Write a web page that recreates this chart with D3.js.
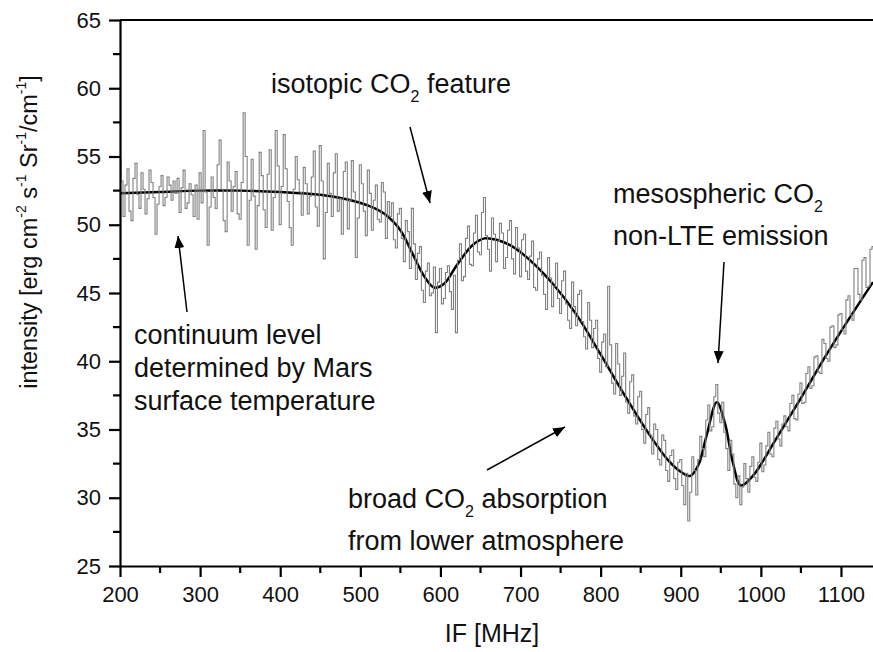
<!DOCTYPE html>
<html>
<head>
<meta charset="utf-8">
<script src="https://cdn.jsdelivr.net/npm/d3@7"></script>
<style>
  body { margin: 0; background: #fff; }
  text { font-family: "Liberation Sans", Arial, sans-serif; fill: #111; }
</style>
</head>
<body>
<div class="chart"></div>
<script>
// measured spectrum, one channel every 2.5 MHz from 200 to 1140
const freqStart = 200, freqStep = 2.5;
const measured = [
  54.8, 53.2, 50.6, 52.9, 54.1, 51.0, 50.3, 53.4, 54.5, 52.2, 51.2, 53.8, 52.6, 50.8, 51.9, 54.0, 53.1, 52.0, 49.3, 51.5,
  52.8, 53.6, 51.4, 52.0, 53.5, 52.9, 51.8, 53.2, 52.3, 53.4, 50.9, 52.7, 54.0, 51.2, 51.6, 53.0, 52.2, 50.6, 52.9, 50.4,
  53.8, 51.6, 56.9, 52.4, 48.5, 51.3, 53.5, 52.0, 51.2, 54.4, 56.2, 52.6, 50.3, 49.5, 54.6, 53.2, 51.0, 52.8, 53.9, 50.8,
  50.4, 53.1, 58.2, 55.0, 48.5, 51.8, 54.8, 52.1, 48.2, 51.4, 55.3, 53.6, 51.1, 49.8, 53.7, 55.5, 49.6, 52.0, 56.9, 54.3,
  50.0, 52.8, 56.6, 54.1, 51.7, 49.8, 48.5, 52.6, 55.0, 53.3, 52.4, 50.7, 54.2, 53.0, 50.8, 52.1, 53.5, 55.4, 51.3, 49.9,
  55.8, 53.2, 47.5, 50.9, 54.5, 52.3, 50.6, 53.8, 55.2, 51.0, 51.9, 49.3, 53.9, 54.6, 49.7, 51.8, 54.7, 52.4, 47.6, 50.5,
  54.4, 53.0, 51.0, 49.2, 54.0, 52.3, 49.6, 51.8, 52.9, 50.4, 50.2, 53.1, 52.4, 49.0, 51.7, 50.6, 51.6, 48.9, 48.3, 50.8,
  51.2, 49.0, 47.3, 50.3, 49.5, 46.8, 51.2, 48.6, 46.0, 47.9, 48.4, 45.2, 44.3, 46.6, 47.2, 44.8, 45.0, 46.9, 42.1, 45.8,
  46.8, 44.2, 44.6, 46.5, 47.0, 45.1, 43.8, 46.3, 42.1, 47.4, 48.6, 45.9, 46.2, 49.0, 49.9, 47.1, 47.0, 49.4, 50.7, 48.0,
  47.8, 50.9, 52.0, 49.2, 48.2, 46.6, 50.5, 49.3, 47.3, 48.8, 50.1, 49.4, 46.8, 47.6, 49.6, 50.3, 47.5, 46.4, 49.8, 48.3,
  46.2, 48.9, 49.3, 46.6, 46.0, 47.7, 48.8, 45.4, 45.2, 47.5, 48.0, 46.3, 44.9, 43.8, 47.6, 46.1, 44.0, 45.5, 47.2, 44.6,
  43.5, 45.9, 46.6, 44.2, 43.0, 42.4, 45.8, 44.0, 42.6, 44.9, 45.2, 42.9, 41.8, 40.9, 44.3, 43.0, 41.0, 42.4, 43.0, 40.2,
  39.2, 41.4, 42.0, 39.6, 45.5, 41.2, 38.4, 37.6, 41.3, 39.8, 37.5, 38.9, 40.6, 37.0, 36.2, 38.5, 39.0, 36.0, 35.4, 37.4,
  37.8, 35.0, 34.0, 36.1, 36.6, 34.6, 33.2, 35.4, 35.0, 32.8, 32.4, 34.6, 34.2, 32.0, 31.2, 33.1, 33.5, 31.4, 30.6, 32.6,
  32.8, 30.9, 29.5, 31.8, 28.3, 30.4, 33.0, 32.0, 30.2, 32.8, 34.5, 33.6, 33.0, 35.7, 36.8, 34.9, 35.2, 37.4, 38.3, 36.2,
  35.5, 37.0, 34.8, 33.6, 32.0, 34.2, 33.2, 31.0, 30.0, 31.6, 29.5, 30.8, 32.5, 31.4, 30.4, 32.3, 33.0, 31.5, 31.2, 32.6,
  34.0, 31.9, 32.4, 33.8, 34.8, 33.2, 33.0, 35.1, 35.6, 34.3, 33.8, 35.4, 36.0, 35.2, 34.9, 36.9, 37.5, 35.8, 35.7, 37.6,
  38.4, 36.9, 37.0, 39.1, 39.6, 38.0, 38.2, 40.3, 40.4, 39.2, 39.1, 41.6, 41.3, 40.2, 40.0, 42.5, 42.6, 41.0, 41.2, 43.4,
  43.5, 42.3, 42.0, 44.5, 44.8, 43.4, 43.0, 46.8, 46.8, 44.9, 44.5, 47.4, 47.6, 45.4, 45.5, 48.2, 48.4
];

// model fit (black curve)
const fitFreq = [200, 250, 300, 350, 400, 450, 480, 510, 530, 550, 565, 580, 592, 605, 620, 640, 655, 670, 690, 710,
                 740, 770, 800, 830, 860, 885, 900, 912, 922, 932, 945, 955, 965, 975, 990, 1020, 1050, 1080, 1110, 1140];
const fitValue = [52.3, 52.4, 52.5, 52.5, 52.4, 52.2, 51.9, 51.4, 50.8, 49.6, 47.9, 46.2, 45.4, 45.7, 47.0, 48.5, 49.0, 48.9, 48.4, 47.5,
                  45.7, 43.4, 40.5, 37.5, 34.7, 32.7, 31.9, 31.6, 32.4, 34.5, 37.0, 35.5, 32.6, 30.9, 31.6, 34.4, 37.3, 40.3, 43.1, 45.8];

const xTicks = [200, 300, 400, 500, 600, 700, 800, 900, 1000, 1100];
const xMinor = [250, 350, 450, 550, 650, 750, 850, 950, 1050];
const yTicks = [25, 30, 35, 40, 45, 50, 55, 60, 65];
const yMinor = [27.5, 32.5, 37.5, 42.5, 47.5, 52.5, 57.5, 62.5];

const width = 873, height = 652;
const margin = ({top: 20, right: 0, bottom: 86, left: 120});

const svg = d3.select(".chart").append("svg")
    .attr("width", width)
    .attr("height", height);

const x = d3.scaleLinear()
    .domain([200, 1140])
    .range([margin.left, width - margin.right]);

const y = d3.scaleLinear()
    .domain([25, 65])
    .range([height - margin.bottom, margin.top]);

// data
const measuredData = measured.map((v, i) => [freqStart + i * freqStep, v]);
const fitData = fitFreq.map((f, i) => [f, fitValue[i]]);

svg.append("path")
    .datum(fitData)
    .attr("fill", "none")
    .attr("stroke", "#000")
    .attr("stroke-width", 2.5)
    .attr("d", d3.line().x(d => x(d[0])).y(d => y(d[1])).curve(d3.curveCatmullRom.alpha(0.5)));

svg.append("path")
    .datum(measuredData)
    .attr("fill", "none")
    .attr("stroke", "#808080")
    .attr("stroke-width", 1.1)
    .attr("d", d3.line().x(d => x(d[0])).y(d => y(d[1])).curve(d3.curveStep));

// axes
const xAxis = d3.axisBottom(x).tickValues(xTicks).tickFormat(d3.format("d"))
    .tickSize(11).tickSizeOuter(0).tickPadding(9);
const yAxis = d3.axisLeft(y).tickValues(yTicks).tickFormat(d3.format("d"))
    .tickSize(11).tickSizeOuter(0).tickPadding(8);

const gx = svg.append("g")
    .attr("transform", "translate(0," + y(25) + ")")
    .call(xAxis);
gx.selectAll(".minor")
    .data(xMinor)
    .enter()
    .append("line")
    .attr("class", "minor")
    .attr("x1", d => x(d)).attr("x2", d => x(d))
    .attr("y1", 0).attr("y2", 7);

const gy = svg.append("g")
    .attr("transform", "translate(" + x(200) + ",0)")
    .call(yAxis);
gy.selectAll(".minor")
    .data(yMinor)
    .enter()
    .append("line")
    .attr("class", "minor")
    .attr("y1", d => y(d)).attr("y2", d => y(d))
    .attr("x1", 0).attr("x2", -7);

svg.selectAll(".domain, .tick line, .minor")
    .attr("stroke", "#000")
    .attr("stroke-width", 2.2);
svg.selectAll(".tick text")
    .attr("font-size", 22)
    .attr("font-family", "Liberation Sans, Arial, sans-serif")
    .attr("fill", "#111");

// top frame line
svg.append("line")
    .attr("x1", x(200)).attr("x2", width)
    .attr("y1", y(65)).attr("y2", y(65))
    .attr("stroke", "#000")
    .attr("stroke-width", 2.2);

// axis titles
svg.append("text")
    .attr("x", 492)
    .attr("y", 642)
    .attr("text-anchor", "middle")
    .attr("font-size", 25)
    .text("IF [MHz]");

const yTitle = svg.append("text")
    .attr("transform", "translate(37," + 232 + ")rotate(-90)")
    .attr("text-anchor", "middle")
    .attr("font-size", 23.5);
yTitle.append("tspan").text("intensity [erg cm");
yTitle.append("tspan").attr("font-size", 14).attr("dy", -11).text("-2");
yTitle.append("tspan").attr("dy", 11).text(" s");
yTitle.append("tspan").attr("font-size", 14).attr("dy", -11).text("-1");
yTitle.append("tspan").attr("dy", 11).text(" Sr");
yTitle.append("tspan").attr("font-size", 14).attr("dy", -11).text("-1");
yTitle.append("tspan").attr("dy", 11).text("/cm");
yTitle.append("tspan").attr("font-size", 14).attr("dy", -11).text("-1");
yTitle.append("tspan").attr("dy", 11).text("]");

// annotations: "_" marks a subscript part
function label(tx, ty, parts) {
    const t = svg.append("text").attr("x", tx).attr("y", ty).attr("font-size", 27);
    let down = false;
    parts.forEach(p => {
        if (p.startsWith("_")) {
            t.append("tspan").attr("font-size", 16).attr("dy", 9).text(p.slice(1));
            down = true;
        } else {
            t.append("tspan").attr("dy", down ? -9 : 0).text(p);
            down = false;
        }
    });
}
label(271, 93, ["isotopic CO", "_2", " feature"]);
label(613, 203, ["mesospheric CO", "_2"]);
label(613, 245, ["non-LTE emission"]);
label(134, 344, ["continuum level"]);
label(134, 377, ["determined by Mars"]);
label(134, 410, ["surface temperature"]);
label(348, 508, ["broad CO", "_2", " absorption"]);
label(348, 550, ["from lower atmosphere"]);

// arrows
svg.append("defs").append("marker")
    .attr("id", "head")
    .attr("viewBox", "0 0 12 10")
    .attr("refX", 12).attr("refY", 5)
    .attr("markerWidth", 12).attr("markerHeight", 10)
    .attr("markerUnits", "userSpaceOnUse")
    .attr("orient", "auto")
    .append("path")
    .attr("d", "M0,0 L12,5 L0,10 Z")
    .attr("fill", "#000");

const arrows = [
    [410, 127, 430, 203],
    [724, 262, 718, 363],
    [187, 312, 178, 236],
    [487, 470, 565, 427]
];
svg.selectAll(".arrow")
    .data(arrows)
    .enter()
    .append("line")
    .attr("class", "arrow")
    .attr("x1", d => d[0]).attr("y1", d => d[1])
    .attr("x2", d => d[2]).attr("y2", d => d[3])
    .attr("stroke", "#000")
    .attr("stroke-width", 1.5)
    .attr("marker-end", "url(#head)");
</script>
</body>
</html>
